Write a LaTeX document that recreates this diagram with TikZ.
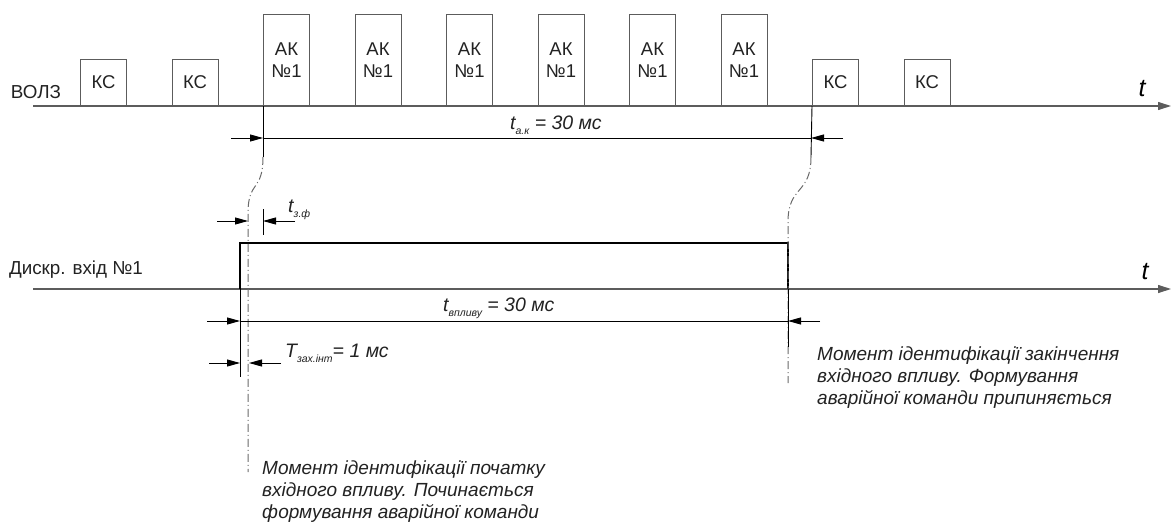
\documentclass[tikz,border=0pt]{standalone}
\usepackage{fontspec}
\setmainfont{Liberation Sans}
\usetikzlibrary{arrows.meta,positioning,calc}
\definecolor{cAx}{HTML}{5c5c5c}
\definecolor{cTx}{HTML}{222222}
\definecolor{cGd}{HTML}{6a6a6a}
\newcommand\tsub[2]{#1\raisebox{-5pt}{\fontsize{10.5}{10.5}\selectfont #2}}
\tikzset{
  axis/.style={draw=cAx,line width=1.1pt,-{Triangle[length=13pt,width=8pt]}},
  slot/.style={draw=cAx,line width=1pt,minimum width=46pt,anchor=south west,
              inner sep=0pt,align=center,text=cTx,font=\fontsize{18.5}{22}\selectfont},
  pulse/.style={line width=2pt,black},
  ext/.style={line width=0.9pt,black},
  dimline/.style={line width=0.9pt,black},
  dimarrow/.style={line width=0.9pt,black,-{Triangle[length=13pt,width=7pt]}},
  guide/.style={line width=1pt,cGd,dash pattern=on 8pt off 3pt on 1pt off 3pt},
  lbl/.style={text=cTx,font=\fontsize{18.8}{20}\selectfont,inner sep=0pt},
  tlbl/.style={text=black,font=\fontsize{25}{25}\selectfont\itshape,inner sep=0pt},
  dimlbl/.style={text=cTx,font=\fontsize{19.5}{20}\selectfont\itshape,inner sep=0pt,anchor=base west},
  note/.style={text=cTx,font=\fontsize{19}{22}\selectfont\itshape,align=left,
              anchor=north west,inner sep=0pt},
}
\begin{document}
\begin{tikzpicture}[x=1pt,y=-1pt]
  \useasboundingbox (0,0) rectangle (1171,522);
  % time axes
  \coordinate (a1s) at (33,106);  \coordinate (a1e) at (1171,106);
  \coordinate (a2s) at (33,289);  \coordinate (a2e) at (1171,289);
  \draw[axis] (a1s) -- (a1e);
  \draw[axis] (a2s) -- (a2e);
  \node[lbl] (volz) at (36,92) {ВОЛЗ};
  \node[lbl] (dinp) at (76,270) {Дискр. вхід №1};
  \node[tlbl] (t1) at (1142,89) {t};
  \node[tlbl] (t2) at (1145,272) {t};
  % time slots on the line
  \foreach \i in {0,1,8,9}{\node[slot,minimum height=46pt] (p\i) at ({80+91.5*\i},106) {КС};}
  \foreach \i in {2,...,7}{\node[slot,minimum height=91pt] (p\i) at ({80+91.5*\i},106) {АК\\№1};}
  % input pulse
  \coordinate (r0) at (240,289); \coordinate (r1) at (240,243);
  \coordinate (f1) at (788,243); \coordinate (f0) at (788,289);
  \draw[pulse] (r0) -- (r1) -- (f1) -- (f0);
  % guides
  \coordinate (g1a) at (263,157); \coordinate (g1b) at (248,213); \coordinate (g1c) at (248,472);
  \coordinate (g2a) at (811,157); \coordinate (g2b) at (788,222); \coordinate (g2c) at (788,383);
  \draw[guide] (g1a) .. controls (263,192) and (248,180) .. (g1b) -- (g1c);
  \draw[guide] (g2a) .. controls (811,195) and (788,185) .. (g2b) -- (g2c);
  % extension lines
  \coordinate (e1) at (263,157); \coordinate (e2) at (811,157);
  \coordinate (e3a) at (263,209); \coordinate (e3b) at (263,235);
  \coordinate (e4) at (240,377); \coordinate (e5) at (788,347);
  \draw[ext] (p2.south west) -- (e1);
  \draw[ext] (p8.south west) -- (e2);
  \draw[ext] (e3a) -- (e3b);
  \draw[ext] (r0) -- (e4);
  \draw[ext] (f0) -- (e5);
  % t_a.k
  \coordinate (d1l) at (231,138); \coordinate (d1a) at (263,138);
  \coordinate (d1b) at (811,138); \coordinate (d1r) at (843,138);
  \draw[dimarrow] (d1l) -- (d1a);
  \draw[dimline] (d1a) -- (d1b);
  \draw[dimarrow] (d1r) -- (d1b);
  \node[dimlbl] (tak) at (510,129) {\tsub{t}{а.к} = 30 мс};
  % t_z.f
  \coordinate (d2l) at (217,221); \coordinate (d2a) at (248,221);
  \coordinate (d2b) at (263,221); \coordinate (d2r) at (295,221);
  \draw[dimarrow] (d2l) -- (d2a);
  \draw[dimarrow] (d2r) -- (d2b);
  \node[dimlbl] (tzf) at (288,212) {\tsub{t}{з.ф}};
  % t_vplyvu
  \coordinate (d3l) at (207,321); \coordinate (d3a) at (240,321);
  \coordinate (d3b) at (788,321); \coordinate (d3r) at (820,321);
  \draw[dimarrow] (d3l) -- (d3a);
  \draw[dimline] (d3a) -- (d3b);
  \draw[dimarrow] (d3r) -- (d3b);
  \node[dimlbl] (tvp) at (443,311) {\tsub{t}{впливу} = 30 мс};
  % T_zakh.int
  \coordinate (d4l) at (209,363); \coordinate (d4a) at (240,363);
  \coordinate (d4b) at (249,363); \coordinate (d4r) at (281,363);
  \draw[dimarrow] (d4l) -- (d4a);
  \draw[dimarrow] (d4r) -- (d4b);
  \node[dimlbl] (tzi) at (285,357) {\tsub{T}{зах.інт}= 1 мс};
  % notes
  \node[note] (n1) at (262,461) {Момент ідентифікації початку\\вхідного впливу. Починається\\формування аварійної команди};
  \node[note] (n2) at (817,347) {Момент ідентифікації закінчення\\вхідного впливу. Формування\\аварійної команди припиняється};
\end{tikzpicture}
\end{document}
